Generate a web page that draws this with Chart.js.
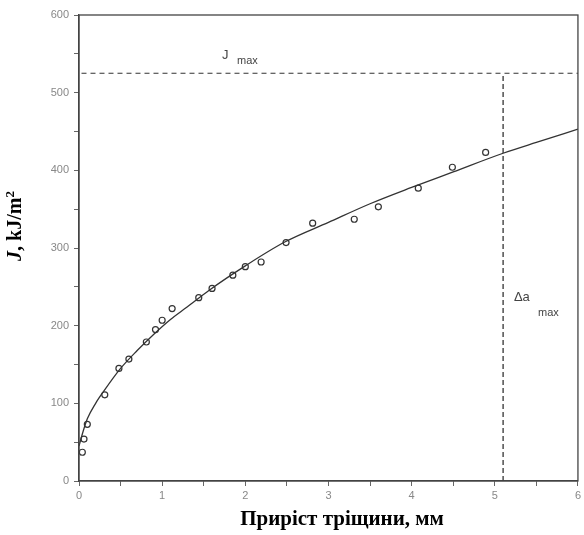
<!DOCTYPE html>
<html>
<head>
<meta charset="utf-8">
<script src="https://cdn.jsdelivr.net/npm/chart.js@4.4.0/dist/chart.umd.min.js"></script>
<style>
    html, body { margin: 0; padding: 0; background: #fff; }
    #wrap { width: 584px; height: 535px; }
</style>
</head>
<body>
<div id="wrap"><canvas id="grafico" width="584" height="535"></canvas></div>
<script>
// Pontos medidos (приріст тріщини, мм / J, kJ/m2)
const pontosX = [0.04, 0.06, 0.10, 0.31, 0.48, 0.60, 0.81, 0.92, 1.00, 1.12, 1.44, 1.60, 1.85, 2.00, 2.19, 2.49, 2.81, 3.31, 3.60, 4.08, 4.49, 4.89];
const pontosJ = [37, 54, 73, 111, 145, 157, 179, 195, 207, 222, 236, 248, 265, 276, 282, 307, 332, 337, 353, 377, 404, 423];

// Curva ajustada
const curvaX = [0, 0.05, 0.1, 0.2, 0.3, 0.5, 0.7, 0.9, 1.1, 1.3, 1.57, 2.0, 2.48, 3.0, 3.5, 4.0, 4.5, 5.1, 5.5, 6.0];
const curvaJ = [45, 64, 80, 100, 116, 145, 168, 189, 208, 224, 246, 277, 308, 333, 357, 378, 398, 422, 436, 453];

// Limites (linhas tracejadas)
const jMax = 525;
const deltaAMax = 5.1;
const linhaJmaxX = [0.03, 6];

const corLinha = '#333';

const juntar = (xs, ys) => xs.map((x, i) => ({ x: x, y: ys[i] }));

// Desenha moldura, títulos e anotações
const extras = {
    id: 'extras',
    afterDraw(chart) {
        const ctx = chart.ctx;
        const area = chart.chartArea;
        const sx = chart.scales.x;
        const sy = chart.scales.y;
        ctx.save();
        ctx.strokeStyle = '#444';
        ctx.lineWidth = 1.3;
        ctx.strokeRect(area.left, area.top, area.right - area.left, area.bottom - area.top);

        // título do eixo x
        ctx.fillStyle = '#000';
        ctx.font = 'bold 21px "Liberation Serif", "Times New Roman", serif';
        ctx.textAlign = 'center';
        ctx.textBaseline = 'middle';
        ctx.fillText('Приріст тріщини, мм', 342, 520);

        // título do eixo y (J em itálico)
        ctx.save();
        ctx.translate(16, 226);
        ctx.rotate(-Math.PI / 2);
        ctx.textAlign = 'left';
        const parteJ = 'J';
        const resto = ', kJ/m';
        ctx.font = 'italic bold 20px "Liberation Serif", serif';
        const wJ = ctx.measureText(parteJ).width;
        ctx.font = 'bold 20px "Liberation Serif", serif';
        const wR = ctx.measureText(resto).width;
        ctx.font = 'bold 13px "Liberation Serif", serif';
        const w2 = ctx.measureText('2').width;
        let x0 = -(wJ + wR + w2) / 2;
        ctx.font = 'italic bold 20px "Liberation Serif", serif';
        ctx.fillText(parteJ, x0, 0);
        ctx.font = 'bold 20px "Liberation Serif", serif';
        ctx.fillText(resto, x0 + wJ, 0);
        ctx.font = 'bold 13px "Liberation Serif", serif';
        ctx.fillText('2', x0 + wJ + wR, -5);
        ctx.restore();

        // anotações
        ctx.fillStyle = '#444';
        ctx.textAlign = 'left';
        ctx.font = '13px "Liberation Sans", Arial, sans-serif';
        ctx.fillText('J', sx.getPixelForValue(1.72), sy.getPixelForValue(548));
        ctx.font = '11px "Liberation Sans", Arial, sans-serif';
        ctx.fillText('max', sx.getPixelForValue(1.90), sy.getPixelForValue(541));
        ctx.font = '13px "Liberation Sans", Arial, sans-serif';
        ctx.fillText('Δa', sx.getPixelForValue(5.23), sy.getPixelForValue(236));
        ctx.font = '11px "Liberation Sans", Arial, sans-serif';
        ctx.fillText('max', sx.getPixelForValue(5.52), sy.getPixelForValue(216));
        ctx.restore();
    }
};

const eixoComum = {
    type: 'linear',
    border: { display: true, color: '#444', width: 1.3 },
    grid: { drawOnChartArea: false, drawTicks: true, tickLength: 5, color: '#666' },
    ticks: {
        color: '#888',
        font: { family: '"Liberation Sans", Arial, sans-serif', size: 11 },
        autoSkip: false,
        maxRotation: 0
    }
};

new Chart(document.getElementById('grafico'), {
    type: 'scatter',
    data: {
        datasets: [
            {
                data: juntar(pontosX, pontosJ),
                pointStyle: 'circle',
                pointRadius: 3,
                borderColor: corLinha,
                borderWidth: 1.2,
                backgroundColor: 'rgba(0,0,0,0)'
            },
            {
                data: juntar(curvaX, curvaJ),
                showLine: true,
                pointRadius: 0,
                borderColor: corLinha,
                borderWidth: 1.3,
                cubicInterpolationMode: 'monotone'
            },
            {
                data: linhaJmaxX.map(x => ({ x: x, y: jMax })),
                showLine: true,
                pointRadius: 0,
                borderColor: corLinha,
                borderWidth: 1.2,
                borderDash: [5, 4]
            },
            {
                data: [{ x: deltaAMax, y: 0 }, { x: deltaAMax, y: jMax }],
                showLine: true,
                pointRadius: 0,
                borderColor: corLinha,
                borderWidth: 1.3,
                borderDash: [5, 3]
            }
        ]
    },
    options: {
        responsive: false,
        animation: false,
        layout: { padding: { top: 15, right: 4, left: 0, bottom: 0 } },
        plugins: { legend: { display: false }, tooltip: { enabled: false } },
        scales: {
            x: {
                ...eixoComum,
                min: 0, max: 6,
                ticks: {
                    ...eixoComum.ticks,
                    stepSize: 0.5,
                    padding: 3,
                    callback: v => (v % 1 === 0 ? v : '')
                },
                afterFit: s => { s.height = 54; }
            },
            y: {
                ...eixoComum,
                min: 0, max: 600,
                ticks: {
                    ...eixoComum.ticks,
                    stepSize: 50,
                    padding: 5,
                    callback: v => (v % 100 === 0 ? v : '')
                },
                afterFit: s => { s.width = 79; }
            }
        }
    },
    plugins: [extras]
});
</script>
</body>
</html>
